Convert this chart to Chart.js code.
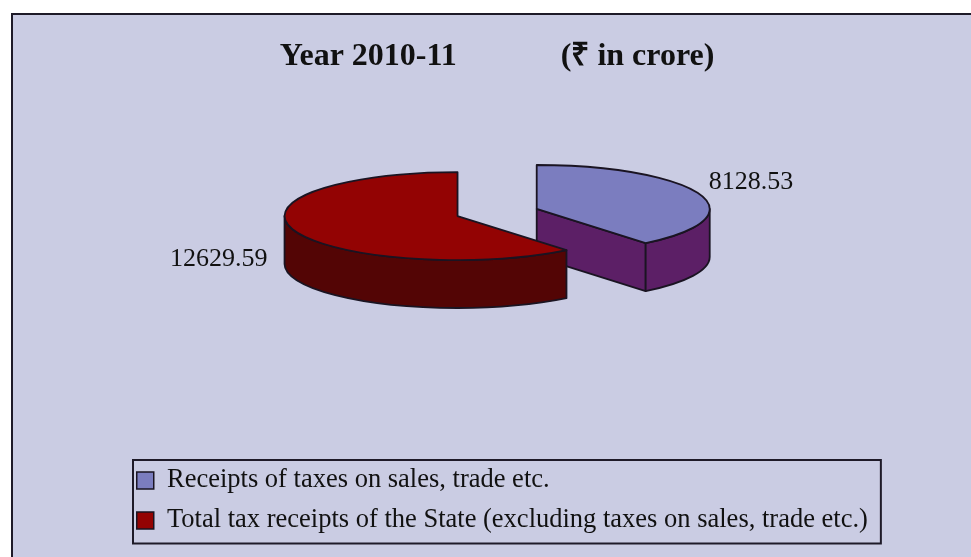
<!DOCTYPE html>
<html>
<head>
<meta charset="utf-8">
<title>Tax receipts 2010-11</title>
<script src="https://cdn.jsdelivr.net/npm/chart.js@4.4.1/dist/chart.umd.min.js"></script>
<style>
  html, body { margin: 0; padding: 0; background: #ffffff; }
  #receipts-chart { display: block; }
</style>
</head>
<body>
<canvas id="receipts-chart" width="971" height="557"></canvas>
<script>
const receipts_chart = document.getElementById("receipts-chart");

const categories = [
    "Receipts of taxes on sales, trade etc.",
    "Total tax receipts of the State (excluding taxes on sales, trade etc.)",
];
const receipts = [8128.53, 12629.59];
const top_colors = ["#7b7dbf", "#930303"];
const wall_colors = ["#5c1f66", "#530505"];
const title_year = "Year 2010-11";
const title_unit = "(₹ in crore)";

const serif = "'Liberation Serif', 'Times New Roman', serif";
const outline = "#1a1422";
// the disc is seen from above at an angle: ry = rx * tilt
const tilt = 0.254;
const depth = 48;

function ellipsePoint(s, a, drop) {
    return [s.cx + s.rx * Math.cos(a), s.cy + s.ry * Math.sin(a) + drop];
}

function drawSlice(ctx, s) {
    const wall = wall_colors[s.i];
    ctx.fillStyle = wall;

    // straight cut faces, only the ones turned toward us
    [[s.a0, -Math.cos(s.a0)], [s.a1, Math.cos(s.a1)]].forEach(([a, facing]) => {
        if (facing <= 0.001) return;
        const [ex, ey] = ellipsePoint(s, a, 0);
        ctx.beginPath();
        ctx.moveTo(s.cx, s.cy);
        ctx.lineTo(ex, ey);
        ctx.lineTo(ex, ey + depth);
        ctx.lineTo(s.cx, s.cy + depth);
        ctx.closePath();
        ctx.fill();
        ctx.stroke();
    });

    // rounded outer wall, front half of the rim
    for (let turn = -1; turn <= 1; turn++) {
        const lo = Math.max(s.a0, turn * 2 * Math.PI);
        const hi = Math.min(s.a1, turn * 2 * Math.PI + Math.PI);
        if (hi - lo <= 0) continue;
        ctx.beginPath();
        ctx.ellipse(s.cx, s.cy, s.rx, s.ry, 0, lo, hi);
        ctx.ellipse(s.cx, s.cy + depth, s.rx, s.ry, 0, hi, lo, true);
        ctx.closePath();
        ctx.fill();
        ctx.stroke();
    }

    // top face
    ctx.beginPath();
    ctx.moveTo(s.cx, s.cy);
    ctx.ellipse(s.cx, s.cy, s.rx, s.ry, 0, s.a0, s.a1);
    ctx.closePath();
    ctx.fillStyle = top_colors[s.i];
    ctx.fill();
    ctx.stroke();
}

const pie3d = {
    id: "pie3d",
    beforeDraw(chart) {
        const ctx = chart.ctx;
        ctx.save();
        ctx.fillStyle = "#ffffff";
        ctx.fillRect(0, 0, chart.width, chart.height);
        ctx.fillStyle = "#cacce3";
        ctx.fillRect(12, 14, chart.width, chart.height);
        ctx.strokeStyle = "#1e1a28";
        ctx.lineWidth = 2;
        ctx.strokeRect(12, 14, chart.width + 20, chart.height + 20);
        ctx.restore();
    },
    beforeDatasetsDraw(chart) {
        const ctx = chart.ctx;
        const area = chart.chartArea;
        const slices = chart.getDatasetMeta(0).data.map((arc, i) => {
            const p = arc.getProps(["x", "startAngle", "endAngle", "outerRadius"], true);
            const off = arc.options.offset;
            const mid = (p.startAngle + p.endAngle) / 2;
            const rx = p.outerRadius;
            const ry = rx * tilt;
            // disc sits at the top of the plot area
            const cy0 = area.top + ry + off * tilt;
            return {
                i, mid, rx, ry,
                a0: p.startAngle,
                a1: p.endAngle,
                cx: p.x + Math.cos(mid) * off,
                cy: cy0 + Math.sin(mid) * off * tilt,
            };
        });
        // back slices first
        slices.sort((a, b) => a.cy - b.cy);

        ctx.save();
        ctx.lineWidth = 1.8;
        ctx.strokeStyle = outline;
        ctx.lineJoin = "round";
        slices.forEach(s => drawSlice(ctx, s));
        ctx.restore();

        chart.$slices = slices;
        return false;
    },
    afterDraw(chart) {
        const ctx = chart.ctx;
        ctx.save();

        // value labels beside each slice
        ctx.fillStyle = "#111111";
        ctx.font = "26px " + serif;
        ctx.textBaseline = "middle";
        (chart.$slices || []).forEach(s => {
            const [ax, ay] = ellipsePoint(s, s.mid, 0);
            const right = Math.cos(s.mid) >= 0;
            ctx.textAlign = right ? "left" : "right";
            const x = ax + (right ? 9 : -27);
            const y = ay + (Math.sin(s.mid) > 0 ? depth * 0.6 : -12);
            ctx.fillText(receipts[s.i].toFixed(2), x, y);
        });

        // frame round the legend
        const lg = chart.legend;
        const boxes = lg.legendHitBoxes;
        const left = lg.left + 9.75;
        const top = lg.top + 6.25;
        const right = Math.max(...boxes.map(b => b.left + b.width)) + 13;
        ctx.strokeStyle = "#1e1a28";
        ctx.lineWidth = 2;
        ctx.strokeRect(left, top, right - left, lg.bottom - 0.25 - top);
        ctx.restore();
    }
};

new Chart(receipts_chart, {
    type: "pie",
    data: {
        labels: categories,
        datasets: [{
            data: receipts,
            backgroundColor: top_colors,
            borderColor: outline,
            borderWidth: 1.5,
            offset: 42,
        }]
    },
    options: {
        responsive: false,
        animation: false,
        devicePixelRatio: 1,
        radius: 173,
        layout: {
            padding: { left: 123.25, right: 100, top: 0, bottom: 13.25 }
        },
        plugins: {
            title: {
                display: true,
                text: title_year + " ".repeat(13) + title_unit,
                color: "#111111",
                font: { family: serif, size: 32, weight: "bold", lineHeight: 1.2 },
                padding: { top: 38, bottom: 81.5 },
            },
            legend: {
                position: "bottom",
                align: "start",
                labels: {
                    color: "#111111",
                    font: { family: serif, size: 26.5 },
                    boxWidth: 17,
                    boxHeight: 17,
                    padding: 13.5,
                },
            },
            tooltip: { enabled: false },
        },
    },
    plugins: [pie3d],
});
</script>
</body>
</html>
